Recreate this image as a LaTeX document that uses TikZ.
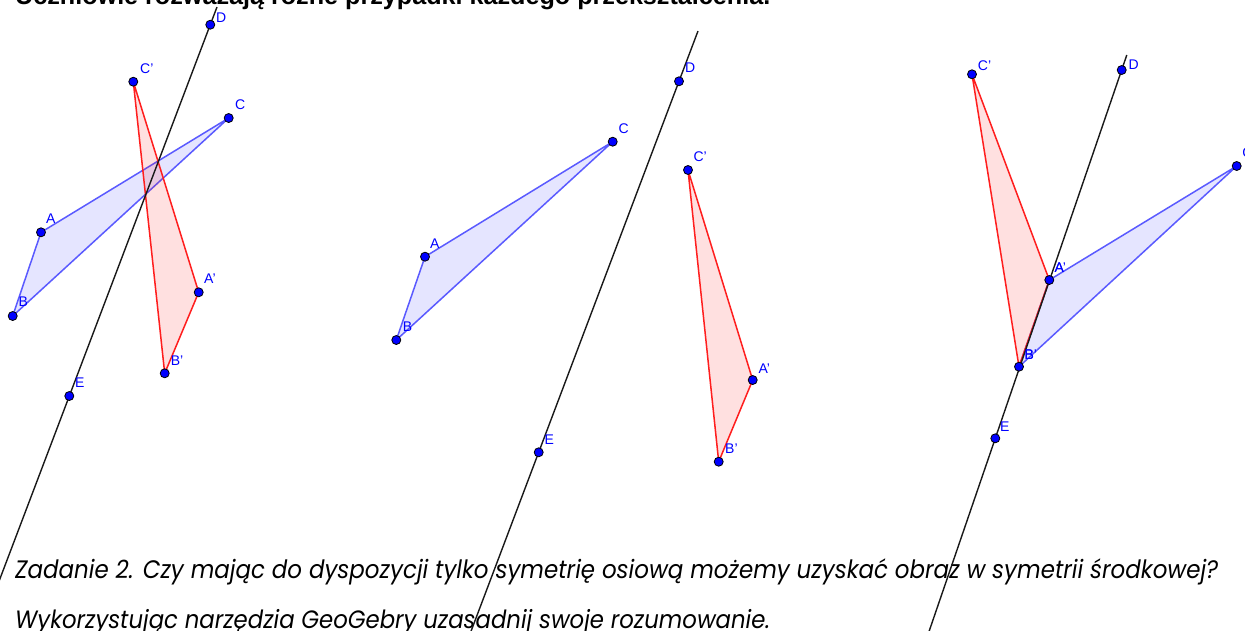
\documentclass[tikz,border=0pt]{standalone}
\usepackage{fontspec}
\setmainfont{Liberation Sans}
\newfontfamily\gothic{Poppins}
\usetikzlibrary{calc}
\definecolor{ptblue}{RGB}{0,0,255}
\definecolor{lblblue}{RGB}{0,0,255}
\definecolor{edgeblue}{RGB}{90,90,255}
\definecolor{edgered}{RGB}{255,30,30}
\definecolor{axiscol}{RGB}{25,25,25}
\tikzset{
  pt/.style={circle, fill=ptblue, draw=black, line width=0.8pt, inner sep=0pt, minimum size=9pt},
  lbl/.style={anchor=base west, inner sep=0pt, text=lblblue, font=\fontsize{14}{14}\selectfont},
  origtri/.style={draw=edgeblue, line width=1.5pt, fill=blue, fill opacity=0.1, line join=round},
  imgtri/.style={draw=edgered, line width=1.5pt, fill=red, fill opacity=0.12, line join=round},
  axisline/.style={draw=axiscol, line width=1.4pt},
  txt/.style={anchor=base west, inner sep=0pt, text=black}
}
\begin{document}
\begin{tikzpicture}[x=1pt,y=-1pt]
\useasboundingbox (0,0) rectangle (1245,630);
\clip (0,0) rectangle (1245,630);
\fill[white] (0,0) rectangle (1245,630);

% texts
\node[txt] (title) at (15,4.5) {\resizebox{755pt}{!}{\bfseries Uczniowie rozważają różne przypadki każdego przekształcenia.}};
\node[txt] (q1) at (15,578) {\scalebox{1}[1.1]{\resizebox{1203pt}{!}{\gothic\itshape Zadanie 2. Czy mając do dyspozycji tylko symetrię osiową możemy uzyskać obraz w symetrii środkowej?}}};
\node[txt] (q2) at (15,628) {\scalebox{1}[1.1]{\resizebox{755pt}{!}{\gothic\itshape Wykorzystując narzędzia GeoGebry uzasadnij swoje rozumowanie.}}};

% ---------- panel 1 ----------
\coordinate (A1) at (41,232.3);
\coordinate (B1) at (12.7,316);
\coordinate (C1) at (228.7,118);
\coordinate (A1p) at (198.7,292.3);
\coordinate (B1p) at (164.7,373.3);
\coordinate (C1p) at (133.3,81.7);
\coordinate (D1) at (210.3,24.7);
\coordinate (E1) at (69.3,396);
\coordinate (T1) at (217,7);
\coordinate (U1) at (-23.3,640);
\path[origtri] (A1) -- (B1) -- (C1) -- cycle;
\path[imgtri] (A1p) -- (B1p) -- (C1p) -- cycle;
\draw[axisline] (T1) -- (U1);

% ---------- panel 2 ----------
\coordinate (A2) at (425,256.7);
\coordinate (B2) at (396.3,340);
\coordinate (C2) at (612.7,141.7);
\coordinate (A2p) at (752.7,380);
\coordinate (B2p) at (718.7,461.7);
\coordinate (C2p) at (688,170);
\coordinate (D2) at (679,81.3);
\coordinate (E2) at (538.7,452.3);
\coordinate (T2) at (698,31);
\coordinate (U2) at (467.7,640);
\path[origtri] (A2) -- (B2) -- (C2) -- cycle;
\path[imgtri] (A2p) -- (B2p) -- (C2p) -- cycle;
\draw[axisline] (T2) -- (U2);

% ---------- panel 3 ----------
\coordinate (A3) at (1049.3,280);
\coordinate (B3) at (1019,366.7);
\coordinate (C3) at (1236.7,166);
\coordinate (C3p) at (972,74.3);
\coordinate (D3) at (1121.7,70);
\coordinate (E3) at (995.3,438.3);
\coordinate (T3) at (1126.8,55);
\coordinate (U3) at (926.1,640);
\path[origtri] (A3) -- (B3) -- (C3) -- cycle;
\path[imgtri] (A3) -- (B3) -- (C3p) -- cycle;
\draw[axisline] (T3) -- (U3);

% points
\foreach \p in {A1,B1,C1,A1p,B1p,C1p,D1,E1,A2,B2,C2,A2p,B2p,C2p,D2,E2,A3,B3,C3,C3p,D3,E3}
  \node[pt] (n\p) at (\p) {};

% labels panel 1
\node[lbl] (lA1) at ($(A1)+(5,-9)$) {A};
\node[lbl] (lB1) at ($(B1)+(5.6,-9.3)$) {B};
\node[lbl] (lC1) at ($(C1)+(6.3,-8.7)$) {C};
\node[lbl] (lA1p) at ($(A1p)+(5.3,-9.3)$) {A'};
\node[lbl] (lB1p) at ($(B1p)+(6,-7.6)$) {B'};
\node[lbl] (lC1p) at ($(C1p)+(6.7,-8.4)$) {C'};
\node[lbl] (lD1) at ($(D1)+(5.7,-2)$) {D};
\node[lbl] (lE1) at ($(E1)+(5.7,-9)$) {E};
% labels panel 2
\node[lbl] (lA2) at ($(A2)+(5,-8.4)$) {A};
\node[lbl] (lB2) at ($(B2)+(6.4,-8.3)$) {B};
\node[lbl] (lC2) at ($(C2)+(5.6,-8.4)$) {C};
\node[lbl] (lA2p) at ($(A2p)+(5.6,-6.7)$) {A'};
\node[lbl] (lB2p) at ($(B2p)+(6.3,-8.4)$) {B'};
\node[lbl] (lC2p) at ($(C2p)+(5.3,-8.3)$) {C'};
\node[lbl] (lD2) at ($(D2)+(6,-8.6)$) {D};
\node[lbl] (lE2) at ($(E2)+(5.6,-8.3)$) {E};
% labels panel 3
\node[lbl] (lA3) at ($(A3)+(5,-7.7)$) {A};
\node[lbl] (lA3p) at ($(A3)+(5,-7.7)$) {A'};
\node[lbl] (lB3) at ($(B3)+(5.3,-7.7)$) {B};
\node[lbl] (lB3p) at ($(B3)+(5.3,-7.7)$) {B'};
\node[lbl] (lC3) at ($(C3)+(5.5,-9)$) {C};
\node[lbl] (lC3p) at ($(C3p)+(5.7,-3.6)$) {C'};
\node[lbl] (lD3) at ($(D3)+(6.6,-0.7)$) {D};
\node[lbl] (lE3) at ($(E3)+(4.7,-7.3)$) {E};
\end{tikzpicture}
\end{document}
